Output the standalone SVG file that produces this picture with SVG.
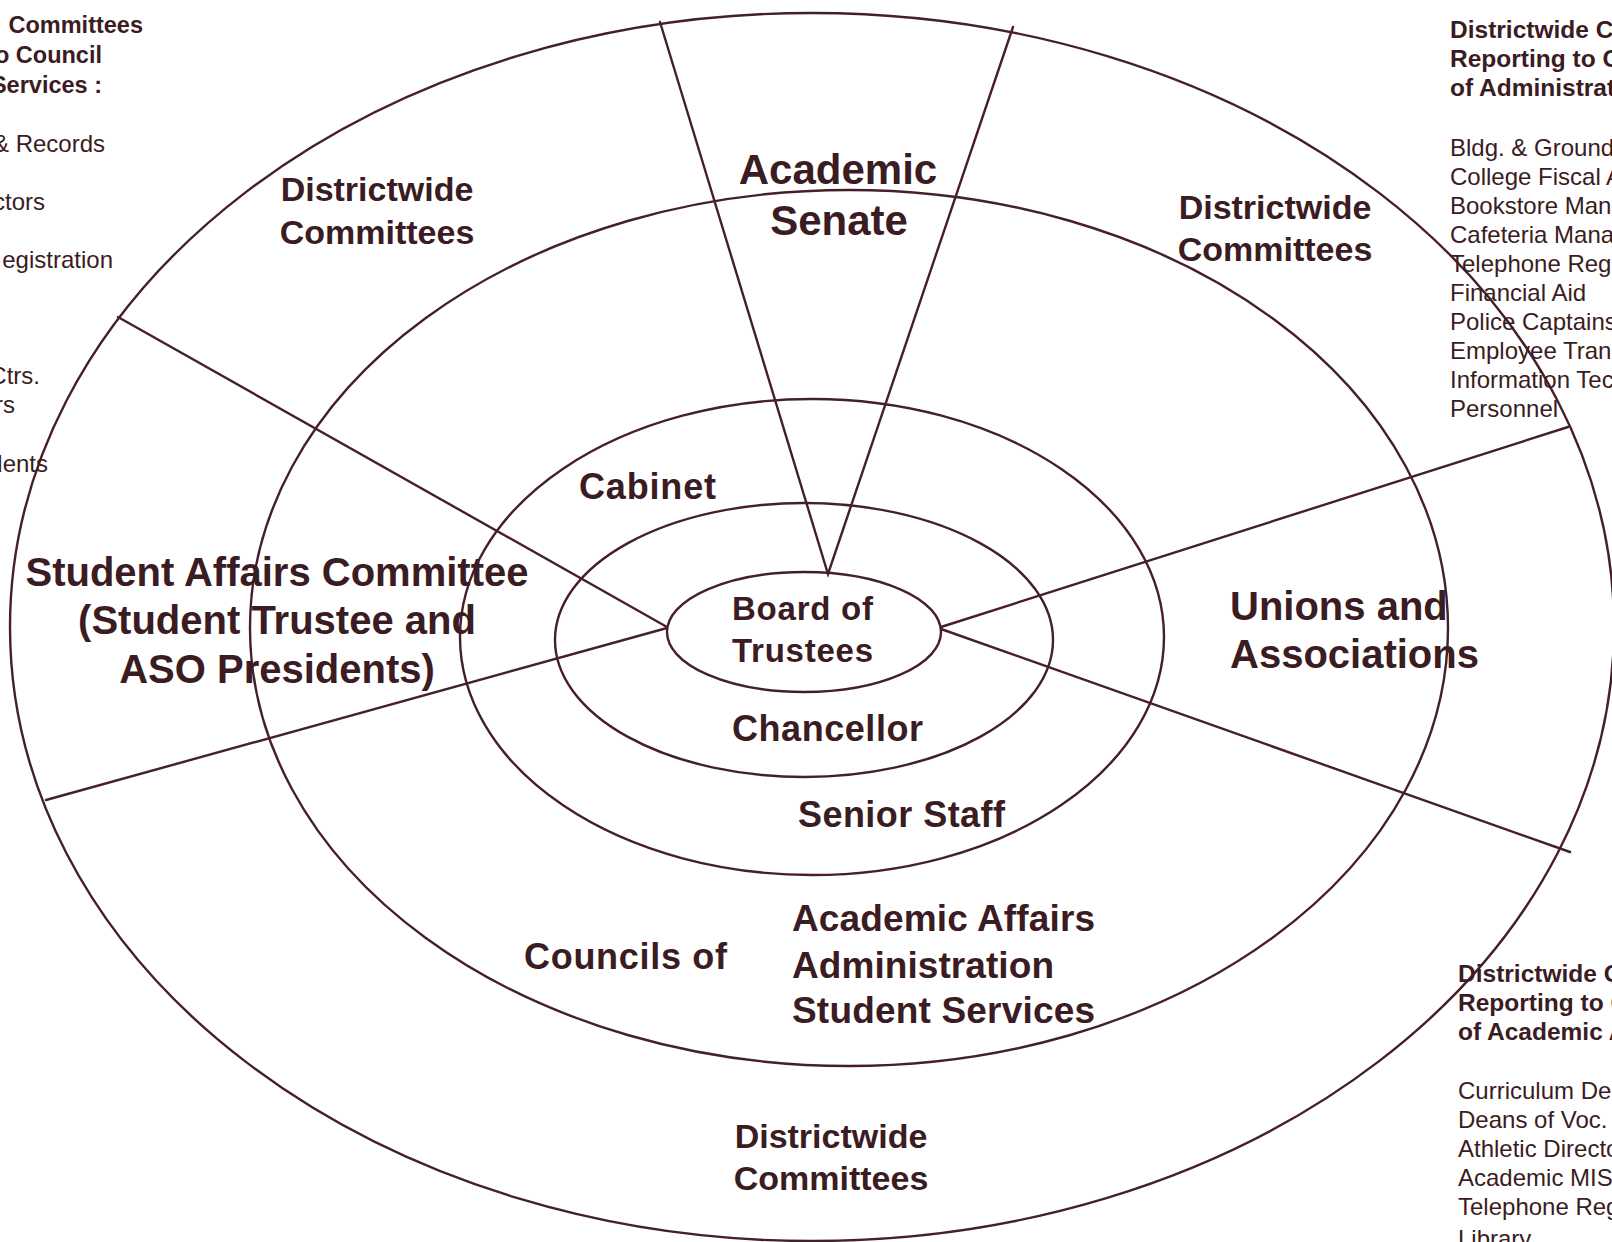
<svg xmlns="http://www.w3.org/2000/svg" width="1612" height="1242" viewBox="0 0 1612 1242">
<style>
.ring{fill:none;stroke:#45202a;stroke-width:2.4}
.ln{fill:none;stroke:#45202a;stroke-width:2.4;stroke-linecap:round;stroke-linejoin:miter}
text{font-family:"Liberation Sans",Arial,Helvetica,sans-serif;fill:#3a1c22}
.b{font-weight:bold}
.big{font-weight:bold;font-size:40px}
.dw{font-weight:bold;font-size:34px;text-anchor:middle}
.mid{font-weight:bold;font-size:36px}
.hd{font-weight:bold;font-size:24.5px}
.hdl{font-weight:bold;font-size:23.5px;text-anchor:end}
.li{font-size:24px}
.end{text-anchor:end}
.c{text-anchor:middle}
</style>
<rect width="1612" height="1242" fill="#ffffff"/>
<g id="rings">
<ellipse id="ring-districtwide" class="ring" cx="812" cy="627" rx="802" ry="614"/>
<ellipse id="ring-councils" class="ring" cx="849" cy="628" rx="599" ry="438"/>
<ellipse id="ring-senior-staff" class="ring" cx="812" cy="637" rx="352" ry="238"/>
<ellipse id="ring-chancellor" class="ring" cx="804" cy="640" rx="249" ry="137"/>
<ellipse id="ring-board" class="ring" cx="804" cy="632" rx="137" ry="60"/>
</g>
<g id="connectors">
<polyline class="ln" points="660,22 828,574 1013,27"/>
<line class="ln" x1="118" y1="317" x2="667" y2="627"/>
<line class="ln" x1="46" y1="800" x2="667" y2="628"/>
<line class="ln" x1="941" y1="627" x2="1568" y2="427"/>
<line class="ln" x1="941" y1="629" x2="1570" y2="852"/>
</g>
<g id="node-districtwide-topleft">
<text class="dw" x="377" y="201">Districtwide</text>
<text class="dw" x="377" y="244">Committees</text>
</g>
<g id="node-academic-senate">
<text class="b c" font-size="42" x="838" y="184">Academic</text>
<text class="b c" font-size="42" x="839" y="235">Senate</text>
</g>
<g id="node-districtwide-topright">
<text class="dw" x="1275" y="219">Districtwide</text>
<text class="dw" x="1275" y="261">Committees</text>
</g>
<g id="node-cabinet">
<text class="mid" x="579" y="499" textLength="137" lengthAdjust="spacing">Cabinet</text>
</g>
<g id="node-student-affairs">
<text class="big c" x="277" y="586">Student Affairs Committee</text>
<text class="big c" x="277" y="634">(Student Trustee and</text>
<text class="big c" x="277" y="683">ASO Presidents)</text>
</g>
<g id="node-board">
<text class="b" font-size="33" x="732" y="620" textLength="141" lengthAdjust="spacing">Board of</text>
<text class="b" font-size="33" x="732" y="662" textLength="141" lengthAdjust="spacing">Trustees</text>
</g>
<g id="node-unions">
<text class="big" x="1230" y="620">Unions and</text>
<text class="big" x="1230" y="668">Associations</text>
</g>
<g id="node-chancellor">
<text class="mid" x="732" y="741" textLength="191" lengthAdjust="spacing">Chancellor</text>
</g>
<g id="node-senior-staff">
<text class="mid" x="798" y="827" textLength="207" lengthAdjust="spacing">Senior Staff</text>
</g>
<g id="node-councils">
<text class="mid" x="524" y="969" textLength="203" lengthAdjust="spacing">Councils of</text>
<text class="b" font-size="37" x="792" y="931" textLength="303" lengthAdjust="spacing">Academic Affairs</text>
<text class="b" font-size="37" x="792" y="978" textLength="262" lengthAdjust="spacing">Administration</text>
<text class="b" font-size="37" x="792" y="1023" textLength="303" lengthAdjust="spacing">Student Services</text>
</g>
<g id="node-districtwide-bottom">
<text class="dw" x="831" y="1148">Districtwide</text>
<text class="dw" x="831" y="1190">Committees</text>
</g>
<g id="note-left">
<text class="hdl" x="143" y="33">Committees</text>
<text class="hdl" x="102" y="63">o Council</text>
<text class="hdl" x="102" y="93">Services :</text>
<text class="li end" x="105" y="152">&amp; Records</text>
<text class="li end" x="45" y="210">ctors</text>
<text class="li end" x="113" y="268">egistration</text>
<text class="li end" x="40" y="384">Ctrs.</text>
<text class="li end" x="15" y="413">rs</text>
<text class="li end" x="48" y="472">dents</text>
</g>
<g id="note-top-right">
<text class="hd" x="1450" y="38">Districtwide C</text>
<text class="hd" x="1450" y="67">Reporting to C</text>
<text class="hd" x="1450" y="96">of Administrat</text>
<text class="li" x="1450" y="156">Bldg. &amp; Ground</text>
<text class="li" x="1450" y="185">College Fiscal A</text>
<text class="li" x="1450" y="214">Bookstore Man</text>
<text class="li" x="1450" y="243">Cafeteria Mana</text>
<text class="li" x="1450" y="272">Telephone Reg</text>
<text class="li" x="1450" y="301">Financial Aid</text>
<text class="li" x="1450" y="330">Police Captains</text>
<text class="li" x="1450" y="359">Employee Tran</text>
<text class="li" x="1450" y="388">Information Tec</text>
<text class="li" x="1450" y="417">Personnel</text>
</g>
<g id="note-bottom-right">
<text class="hd" x="1458" y="982">Districtwide C</text>
<text class="hd" x="1458" y="1011">Reporting to C</text>
<text class="hd" x="1458" y="1040">of Academic A</text>
<text class="li" x="1458" y="1099">Curriculum De</text>
<text class="li" x="1458" y="1128">Deans of Voc.</text>
<text class="li" x="1458" y="1157">Athletic Directo</text>
<text class="li" x="1458" y="1186">Academic MIS</text>
<text class="li" x="1458" y="1215">Telephone Reg</text>
<text class="li" x="1458" y="1247">Library</text>
</g>
</svg>
